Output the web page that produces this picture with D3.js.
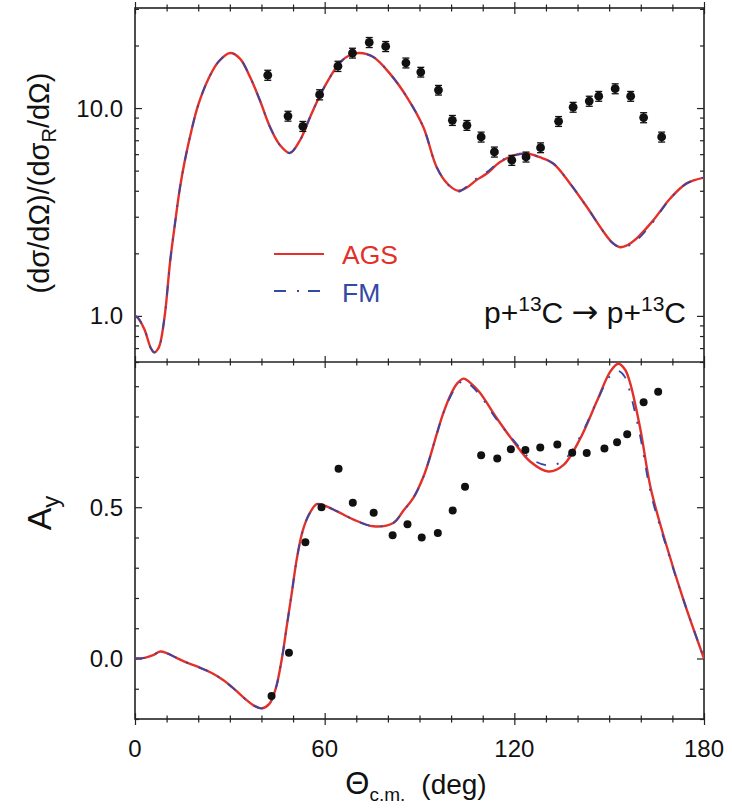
<!DOCTYPE html>
<html>
<head>
<meta charset="utf-8">
<script src="https://cdn.jsdelivr.net/npm/d3@7"></script>
<style>
  body { margin: 0; background: #fff; }
  text { font-family: "Liberation Sans", Arial, Helvetica, sans-serif; fill: #111; }
</style>
</head>
<body>
<script>
// cross section ratio, theory curves
const dsTheta = [0, 1, 3, 5, 6.1, 7.2, 8, 9.5, 11.1, 12.7, 14.2, 15.8, 17.9, 20, 23.2, 26.4, 30.1, 33.2, 36.4, 39.5,
  42.7, 45.9, 49, 52.2, 55.4, 58.5, 61.7, 64.9, 68, 71, 75.4, 80.7, 86, 91.2, 95.4, 99, 102.3, 105, 108, 111.3,
  115.5, 119.5, 123.9, 128, 132.3, 137.6, 142.9, 148.2, 151, 153.4, 156, 158.7, 164, 169.3, 174.5, 180]
const dsAGS = [1.0, 0.975, 0.86, 0.7, 0.667, 0.69, 0.74, 1.03, 1.82, 2.82, 4.12, 5.62, 7.85, 10.35, 13.8, 16.7, 18.4, 17.3, 14.1, 10.9,
  8.11, 6.62, 6.08, 7.0, 9.06, 11.5, 14.1, 16.6, 18.0, 18.4, 17.6, 14.6, 11.3, 8.11, 5.21, 4.3, 4.0, 4.15, 4.5, 4.84,
  5.5, 5.9, 6.04, 5.8, 5.41, 4.34, 3.35, 2.54, 2.25, 2.14, 2.2, 2.36, 2.89, 3.67, 4.34, 4.63]
const dsFM = [1.0, 0.975, 0.86, 0.7, 0.667, 0.69, 0.74, 1.03, 1.82, 2.82, 4.12, 5.62, 7.85, 10.35, 13.8, 16.7, 18.4, 17.3, 14.1, 10.9,
  8.11, 6.62, 6.08, 7.0, 9.06, 11.5, 14.1, 16.6, 18.0, 18.4, 17.6, 14.6, 11.3, 8.11, 5.21, 4.28, 3.96, 4.2, 4.58, 4.92,
  5.55, 5.9, 6.04, 5.8, 5.41, 4.34, 3.35, 2.54, 2.25, 2.14, 2.17, 2.31, 2.84, 3.67, 4.34, 4.63]

// cross section ratio, data
const dsExpTheta = [42.0, 48.4, 53.1, 58.4, 64.2, 68.8, 74.1, 79.3, 85.7, 90.4, 96.0, 100.4, 105.0,
  109.5, 113.7, 119.2, 123.7, 128.3, 134.0, 138.6, 143.7, 146.7, 151.9, 156.8, 160.9, 166.6]
const dsExp = [14.4, 9.15, 8.17, 11.6, 15.9, 18.4, 20.7, 19.8, 16.5, 14.9, 12.2, 8.73, 8.26,
  7.26, 6.15, 5.61, 5.82, 6.45, 8.63, 10.1, 10.8, 11.4, 12.4, 11.4, 9.0, 7.26]
const dsExpErr = [0.8, 0.5, 0.45, 0.65, 0.9, 1.0, 1.15, 1.1, 0.9, 0.8, 0.65, 0.48, 0.45,
  0.4, 0.34, 0.31, 0.32, 0.35, 0.47, 0.55, 0.6, 0.62, 0.68, 0.62, 0.5, 0.4]

// analyzing power, theory curves
const ayTheta = [0, 3, 5.5, 8, 10, 13, 16, 20, 24.3, 28, 31.7, 35, 37.5, 40, 42.5, 44.5, 46.4, 48, 49.6, 51.2,
  53, 55, 57.5, 60, 63.8, 69, 75.4, 81.7, 85, 88, 91.2, 93.3, 95.4, 97.5, 100, 102, 104, 106, 109, 114.4,
  119.7, 125, 130.8, 135.6, 140.9, 146.1, 150.4, 152.9, 155, 156.6, 159.8, 163.2, 168.2, 173.5, 180]
const ayAGS = [0, 0.002, 0.01, 0.023, 0.018, 0.003, -0.012, -0.028, -0.048, -0.072, -0.104, -0.135, -0.155, -0.165, -0.15, -0.1, -0.004, 0.106, 0.217, 0.33,
  0.42, 0.475, 0.51, 0.505, 0.487, 0.46, 0.437, 0.448, 0.49, 0.53, 0.6, 0.665, 0.74, 0.81, 0.875, 0.91, 0.925, 0.912, 0.88, 0.795,
  0.718, 0.651, 0.618, 0.64, 0.728, 0.85, 0.949, 0.974, 0.955, 0.912, 0.762, 0.56, 0.371, 0.194, 0]
const ayFM = [0, 0.002, 0.01, 0.023, 0.018, 0.003, -0.012, -0.028, -0.048, -0.072, -0.104, -0.135, -0.155, -0.165, -0.15, -0.1, -0.004, 0.106, 0.217, 0.33,
  0.42, 0.475, 0.51, 0.505, 0.487, 0.46, 0.437, 0.448, 0.49, 0.53, 0.6, 0.665, 0.74, 0.81, 0.87, 0.903, 0.918, 0.905, 0.872, 0.79,
  0.722, 0.662, 0.638, 0.655, 0.735, 0.85, 0.935, 0.95, 0.93, 0.88, 0.735, 0.545, 0.365, 0.194, 0]

// analyzing power, data
const ayExpTheta = [43.2, 48.7, 53.9, 59.0, 64.4, 68.9, 75.5, 81.5, 86.2, 90.7, 95.8, 100.5, 104.4,
  109.5, 114.6, 118.9, 123.5, 128.2, 133.6, 138.3, 142.9, 148.5, 152.5, 155.7, 160.9, 165.5]
const ayExp = [-0.124, 0.019, 0.384, 0.50, 0.627, 0.515, 0.482, 0.407, 0.444, 0.40, 0.415, 0.489, 0.568,
  0.672, 0.661, 0.692, 0.689, 0.697, 0.707, 0.68, 0.679, 0.694, 0.715, 0.741, 0.847, 0.882]

const xMajor = [0, 60, 120, 180]
const xMinor = [10, 20, 30, 40, 50, 70, 80, 90, 100, 110, 130, 140, 150, 160, 170]
const dsMajor = [1, 10]
const dsMinor = [0.6, 0.7, 0.8, 0.9, 2, 3, 4, 5, 6, 7, 8, 9, 20, 30]
const ayMajor = [0, 0.5]
const ayMinor = [-0.2, -0.1, 0.1, 0.2, 0.3, 0.4, 0.6, 0.7, 0.8, 0.9]

const RED = '#e3312a'
const BLUE = '#3448a6'

let width = 732
let height = 808
let left = 135, right = 704
let topY0 = 8, midY = 362, botY1 = 719

let svg = d3.select('body').append('svg')
  .attr('width', width)
  .attr('height', height)

let x = d3.scaleLinear().domain([0, 180]).range([left, right])
let yTop = d3.scaleLog().domain([0.6, 30.3]).range([midY, topY0])
let yBot = d3.scaleLinear().domain([-0.2, 0.98]).range([botY1, midY])

// clip regions for the two panels
let defs = svg.append('defs')
defs.append('clipPath').attr('id', 'clipTop').append('rect')
  .attr('x', left).attr('y', topY0).attr('width', right - left).attr('height', midY - topY0)
defs.append('clipPath').attr('id', 'clipBot').append('rect')
  .attr('x', left).attr('y', midY).attr('width', right - left).attr('height', botY1 - midY)

function inwardTicks(gen, values, len, tx, ty) {
  svg.append('g')
    .attr('transform', `translate(${tx},${ty})`)
    .call(gen.tickValues(values).tickSize(-len).tickFormat(''))
    .call(g => g.select('.domain').remove())
    .selectAll('line').attr('stroke', '#222').attr('stroke-width', 1.2)
}

// x ticks on both edges of both panels
;[topY0, midY, botY1].forEach(yy => {
  inwardTicks(d3.axisBottom(x), xMajor, 6, 0, yy)
  inwardTicks(d3.axisBottom(x), xMinor, 3.5, 0, yy)
  inwardTicks(d3.axisTop(x), xMajor, 6, 0, yy)
  inwardTicks(d3.axisTop(x), xMinor, 3.5, 0, yy)
})

// y ticks, left and right
inwardTicks(d3.axisLeft(yTop), dsMajor, 7, left, 0)
inwardTicks(d3.axisLeft(yTop), dsMinor, 4, left, 0)
inwardTicks(d3.axisRight(yTop), dsMajor, 7, right, 0)
inwardTicks(d3.axisRight(yTop), dsMinor, 4, right, 0)
inwardTicks(d3.axisLeft(yBot), ayMajor, 7, left, 0)
inwardTicks(d3.axisLeft(yBot), ayMinor, 4, left, 0)
inwardTicks(d3.axisRight(yBot), ayMajor, 7, right, 0)
inwardTicks(d3.axisRight(yBot), ayMinor, 4, right, 0)

// the frames
svg.append('rect')
  .attr('x', left).attr('y', topY0).attr('width', right - left).attr('height', botY1 - topY0)
  .attr('fill', 'none').attr('stroke', '#222').attr('stroke-width', 1.6)
svg.append('line')
  .attr('x1', left).attr('x2', right).attr('y1', midY).attr('y2', midY)
  .attr('stroke', '#222').attr('stroke-width', 1.6)

// tick labels
svg.selectAll('.xlab')
  .data(xMajor)
  .enter().append('text')
  .attr('x', d => x(d))
  .attr('y', 757)
  .attr('text-anchor', 'middle')
  .style('font-size', '24px')
  .text(d => d)

svg.selectAll('.ylabTop')
  .data(dsMajor)
  .enter().append('text')
  .attr('x', 123)
  .attr('y', d => yTop(d) + 8.5)
  .attr('text-anchor', 'end')
  .style('font-size', '24px')
  .text(d => d.toFixed(1))

svg.selectAll('.ylabBot')
  .data(ayMajor)
  .enter().append('text')
  .attr('x', 123)
  .attr('y', d => yBot(d) + 8.5)
  .attr('text-anchor', 'end')
  .style('font-size', '24px')
  .text(d => d.toFixed(1))

// axis titles
let yt = svg.append('text')
  .attr('transform', 'translate(49,183) rotate(-90)')
  .attr('text-anchor', 'middle')
  .style('font-size', '29px')
yt.append('tspan').text('(dσ/dΩ)/(dσ')
yt.append('tspan').attr('dy', 7).style('font-size', '20px').text('R')
yt.append('tspan').attr('dy', -7).text('/dΩ)')

let ya = svg.append('text')
  .attr('transform', 'translate(51,513) rotate(-90)')
  .attr('text-anchor', 'middle')
  .style('font-size', '34px')
ya.append('tspan').text('A')
ya.append('tspan').attr('dy', 8).style('font-size', '24px').text('y')

let xt = svg.append('text')
  .attr('x', 416)
  .attr('y', 794)
  .attr('text-anchor', 'middle')
  .style('font-size', '28px')
xt.append('tspan').style('font-size', '31px').text('Θ')
xt.append('tspan').attr('dy', 7).style('font-size', '19px').text('c.m.')
xt.append('tspan').attr('dy', -7).attr('dx', 16).text('(deg)')

// reaction label
let rl = svg.append('text')
  .attr('x', 686)
  .attr('y', 323)
  .attr('text-anchor', 'end')
  .style('font-size', '30px')
rl.append('tspan').text('p+')
rl.append('tspan').attr('dy', -12).style('font-size', '21px').text('13')
rl.append('tspan').attr('dy', 12).text('C ')
rl.append('tspan')
  .style('font-family', '"DejaVu Sans", sans-serif')
  .style('font-size', '32px')
  .text('→')
rl.append('tspan').text(' p+')
rl.append('tspan').attr('dy', -12).style('font-size', '21px').text('13')
rl.append('tspan').attr('dy', 12).text('C')

// curves
let lineTop = d3.line()
  .x(d => x(d[0]))
  .y(d => yTop(d[1]))
  .curve(d3.curveCatmullRom.alpha(0.5))
let lineBot = d3.line()
  .x(d => x(d[0]))
  .y(d => yBot(d[1]))
  .curve(d3.curveCatmullRom.alpha(0.5))

let topG = svg.append('g').attr('clip-path', 'url(#clipTop)')
let botG = svg.append('g').attr('clip-path', 'url(#clipBot)')

topG.append('path')
  .attr('d', lineTop(d3.zip(dsTheta, dsAGS)))
  .attr('fill', 'none').attr('stroke', RED).attr('stroke-width', 2.4)
topG.append('path')
  .attr('d', lineTop(d3.zip(dsTheta, dsFM)))
  .attr('fill', 'none').attr('stroke', BLUE).attr('stroke-width', 1.8)
  .attr('stroke-dasharray', '10,11,2,11')

botG.append('path')
  .attr('d', lineBot(d3.zip(ayTheta, ayAGS)))
  .attr('fill', 'none').attr('stroke', RED).attr('stroke-width', 2.4)
botG.append('path')
  .attr('d', lineBot(d3.zip(ayTheta, ayFM)))
  .attr('fill', 'none').attr('stroke', BLUE).attr('stroke-width', 1.8)
  .attr('stroke-dasharray', '10,11,2,11')

// data points with error bars
let dsPts = d3.zip(dsExpTheta, dsExp, dsExpErr)
let eb = topG.selectAll('.eb')
  .data(dsPts)
  .enter().append('g')
eb.append('line')
  .attr('x1', d => x(d[0])).attr('x2', d => x(d[0]))
  .attr('y1', d => yTop(d[1] - d[2])).attr('y2', d => yTop(d[1] + d[2]))
  .attr('stroke', '#111').attr('stroke-width', 1.3)
eb.append('line')
  .attr('x1', d => x(d[0]) - 3.5).attr('x2', d => x(d[0]) + 3.5)
  .attr('y1', d => yTop(d[1] - d[2])).attr('y2', d => yTop(d[1] - d[2]))
  .attr('stroke', '#111').attr('stroke-width', 1.3)
eb.append('line')
  .attr('x1', d => x(d[0]) - 3.5).attr('x2', d => x(d[0]) + 3.5)
  .attr('y1', d => yTop(d[1] + d[2])).attr('y2', d => yTop(d[1] + d[2]))
  .attr('stroke', '#111').attr('stroke-width', 1.3)
eb.append('circle')
  .attr('cx', d => x(d[0])).attr('cy', d => yTop(d[1]))
  .attr('r', 4.4).attr('fill', '#111')

botG.selectAll('.ay')
  .data(d3.zip(ayExpTheta, ayExp))
  .enter().append('circle')
  .attr('cx', d => x(d[0])).attr('cy', d => yBot(d[1]))
  .attr('r', 4).attr('fill', '#111')

// legend
let lg = svg.append('g')
lg.append('line').attr('x1', 274).attr('x2', 324).attr('y1', 254).attr('y2', 254)
  .attr('stroke', RED).attr('stroke-width', 2.2)
lg.append('line').attr('x1', 274).attr('x2', 324).attr('y1', 291).attr('y2', 291)
  .attr('stroke', BLUE).attr('stroke-width', 2.2).attr('stroke-dasharray', '12,11,2,9')
lg.append('text').attr('x', 342).attr('y', 263.5).style('font-size', '26.5px').style('fill', RED).text('AGS')
lg.append('text').attr('x', 342).attr('y', 301.5).style('font-size', '26.5px').style('fill', BLUE).text('FM')
</script>
</body>
</html>
